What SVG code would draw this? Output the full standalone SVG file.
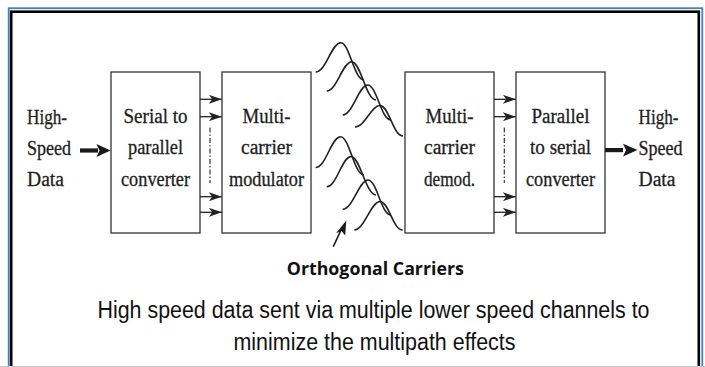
<svg xmlns="http://www.w3.org/2000/svg" width="705" height="367" viewBox="0 0 705 367">
<style>
.box{fill:#fff;stroke:#333;stroke-width:1.3}
.t{font-family:"Liberation Serif","Times New Roman",serif;font-size:20px;fill:#1e1e1e;stroke:#1e1e1e;stroke-width:0.3}
.c{text-anchor:middle}
.wave{fill:none;stroke:#222;stroke-width:1.6}
.ln{stroke:#222;stroke-width:1.3;fill:none}
.dash{stroke:#333;stroke-width:1.2;stroke-dasharray:5 2 1.5 2;fill:none}
.cap{font-family:"Liberation Sans",Arial,sans-serif;font-size:23px;fill:#111;text-anchor:middle}
</style>
<defs>
<marker id="ah" viewBox="0 0 13 9" refX="13" refY="4.5" markerWidth="13" markerHeight="9" markerUnits="userSpaceOnUse" orient="auto">
<path d="M0,0 L13,4.5 L0,9 L3.5,4.5 z" fill="#222"/>
</marker>
</defs>
<rect x="0" y="0" width="705" height="367" fill="#fff"/>
<g id="frame">
<rect x="8.7" y="8.2" width="693.6" height="400" fill="none" stroke="#4a7ebb" stroke-width="1.8"/>
<rect x="11.2" y="11.7" width="687.6" height="400" fill="none" stroke="#000" stroke-width="2.6"/>
<line x1="0" y1="366.5" x2="705" y2="366.5" stroke="#c8c8c8" stroke-width="1"/>
</g>
<g id="input">
<text class="t" x="27" y="124" textLength="40" lengthAdjust="spacingAndGlyphs">High-</text>
<text class="t" x="27" y="155" textLength="44" lengthAdjust="spacingAndGlyphs">Speed</text>
<text class="t" x="27" y="186" textLength="37" lengthAdjust="spacingAndGlyphs">Data</text>
</g>
<g id="serial-to-parallel">
<rect class="box" x="111" y="72" width="89" height="161"/>
<text class="t c" x="155.5" y="122.5" textLength="64" lengthAdjust="spacingAndGlyphs">Serial to</text>
<text class="t c" x="155.5" y="154" textLength="55" lengthAdjust="spacingAndGlyphs">parallel</text>
<text class="t c" x="155.5" y="185.5" textLength="69" lengthAdjust="spacingAndGlyphs">converter</text>
</g>
<g id="modulator">
<rect class="box" x="222" y="72" width="89" height="161"/>
<text class="t c" x="266.5" y="123" textLength="48" lengthAdjust="spacingAndGlyphs">Multi-</text>
<text class="t c" x="266.5" y="154" textLength="51" lengthAdjust="spacingAndGlyphs">carrier</text>
<text class="t c" x="266.5" y="185.5" textLength="75" lengthAdjust="spacingAndGlyphs">modulator</text>
</g>
<g id="demodulator">
<rect class="box" x="405" y="72" width="89" height="161"/>
<text class="t c" x="449.5" y="123" textLength="48" lengthAdjust="spacingAndGlyphs">Multi-</text>
<text class="t c" x="449.5" y="154" textLength="51" lengthAdjust="spacingAndGlyphs">carrier</text>
<text class="t c" x="449.5" y="185.5" textLength="51" lengthAdjust="spacingAndGlyphs">demod.</text>
</g>
<g id="parallel-to-serial">
<rect class="box" x="516" y="72" width="89" height="161"/>
<text class="t c" x="560.5" y="123" textLength="58" lengthAdjust="spacingAndGlyphs">Parallel</text>
<text class="t c" x="560.5" y="154" textLength="61" lengthAdjust="spacingAndGlyphs">to serial</text>
<text class="t c" x="560.5" y="185.5" textLength="69" lengthAdjust="spacingAndGlyphs">converter</text>
</g>
<g id="output">
<text class="t" x="638.5" y="124" textLength="40" lengthAdjust="spacingAndGlyphs">High-</text>
<text class="t" x="638.5" y="155" textLength="44" lengthAdjust="spacingAndGlyphs">Speed</text>
<text class="t" x="638.5" y="186" textLength="37" lengthAdjust="spacingAndGlyphs">Data</text>
</g>
<g id="carriers">
<path class="wave" d="M315.7,72 C325.7,72 331.7,42.7 340.7,42.7 C349.7,42.7 354,80 364,80"/>
<path class="wave" d="M326.7,91 C336.7,91 342.7,61.7 351.7,61.7 C360.7,61.7 366,100 376,100"/>
<path class="wave" d="M342.7,115 C352.7,115 358.7,85 367.7,85 C376.7,85 381,120 391,120"/>
<path class="wave" d="M355,127 C365,127 371,105.5 380,105.5 C389,105.5 393,136 403,136"/>
<path class="wave" d="M315.7,167.5 C325.7,167.5 331.5,136.7 340.5,136.7 C349.5,136.7 354,175 364,175"/>
<path class="wave" d="M326.7,186.7 C336.7,186.7 342,156.5 351,156.5 C360,156.5 366,195 376,195"/>
<path class="wave" d="M342.7,209.3 C352.7,209.3 359,180 368,180 C377,180 381,215 391,215"/>
<path class="wave" d="M354.3,230 C364.3,230 371,201.5 380,201.5 C389,201.5 392.7,230 402.7,230"/>
</g>
<g id="connectors">
<path d="M80,148.4 H98 V152.6 H80 z" fill="#1a1a1a"/>
<path d="M96.5,144 L110.5,150.5 L96.5,157 L99.5,150.5 z" fill="#1a1a1a"/>
<path d="M605,148 H623 V152.2 H605 z" fill="#1a1a1a"/>
<path d="M623,143.8 L637.5,150.1 L623,156.4 L626,150.1 z" fill="#1a1a1a"/>
<line class="ln" x1="200" y1="99.3" x2="221.8" y2="99.3" marker-end="url(#ah)"/>
<line class="ln" x1="200" y1="116.7" x2="221.8" y2="116.7" marker-end="url(#ah)"/>
<line class="ln" x1="200" y1="196.7" x2="221.8" y2="196.7" marker-end="url(#ah)"/>
<line class="ln" x1="200" y1="212.3" x2="221.8" y2="212.3" marker-end="url(#ah)"/>
<line class="dash" x1="210" y1="127.5" x2="210" y2="183"/>
<line class="ln" x1="494" y1="99.3" x2="515.8" y2="99.3" marker-end="url(#ah)"/>
<line class="ln" x1="494" y1="116.7" x2="515.8" y2="116.7" marker-end="url(#ah)"/>
<line class="ln" x1="494" y1="196.7" x2="515.8" y2="196.7" marker-end="url(#ah)"/>
<line class="ln" x1="494" y1="212.3" x2="515.8" y2="212.3" marker-end="url(#ah)"/>
<line class="dash" x1="504.3" y1="127.5" x2="504.3" y2="183"/>
<line x1="333.3" y1="246.7" x2="341.5" y2="229" stroke="#1a1a1a" stroke-width="1.6"/>
<path d="M346.3,220.6 L345.2,235.6 L341.6,231 L336,233.2 z" fill="#1a1a1a"/>
</g>
<g id="labels">
<text x="375.3" y="275" font-family="'Open Sans','Noto Sans',sans-serif" font-size="18" font-weight="bold" fill="#111" text-anchor="middle" textLength="177" lengthAdjust="spacingAndGlyphs">Orthogonal Carriers</text>
<text class="cap" x="373.5" y="318" textLength="552" lengthAdjust="spacingAndGlyphs">High speed data sent via multiple lower speed channels to</text>
<text class="cap" x="374.5" y="350" textLength="282" lengthAdjust="spacingAndGlyphs">minimize the multipath effects</text>
</g>
</svg>
